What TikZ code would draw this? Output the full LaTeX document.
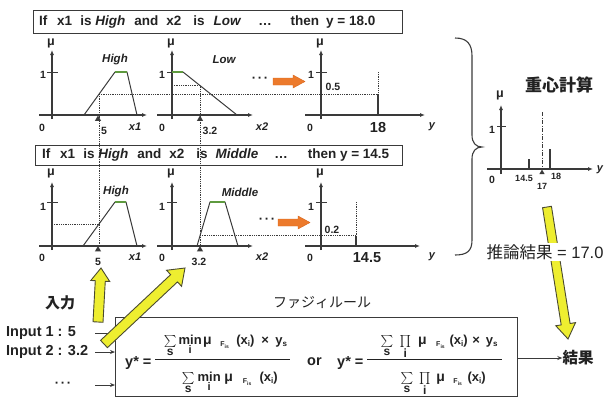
\documentclass[tikz,border=0pt]{standalone}
\usepackage{amsmath}
\usepackage{fontspec}
\setmainfont{Liberation Sans}
\newfontfamily\cjk{Noto Sans CJK JP}
\usetikzlibrary{arrows.meta,calc,shapes.geometric}
\definecolor{ln}{HTML}{3A3A3A}
\definecolor{tx}{HTML}{222222}
\definecolor{org}{HTML}{EC7A2C}
\definecolor{orgd}{HTML}{D8641A}
\definecolor{yel}{HTML}{EEEE30}
\definecolor{yeld}{HTML}{4A4A30}
\definecolor{grn}{HTML}{5E9A3E}
% block arrow: style, from, to, shaft half width, head half width, head length
\newcommand\blockarr[6]{%
  \path let \p1=($(#3)-(#2)$) in \pgfextra{\pgfmathparse{veclen(\x1,\y1)}\xdef\barlen{\pgfmathresult}\pgfmathparse{atan2(\y1,\x1)}\xdef\barang{\pgfmathresult}};
  \begin{scope}[shift={(#2)},rotate=\barang]
    \draw[#1] (0pt,-#4pt) -- (\barlen pt-#6pt,-#4pt) -- (\barlen pt-#6pt,-#5pt) -- (\barlen pt,0pt)
      -- (\barlen pt-#6pt,#5pt) -- (\barlen pt-#6pt,#4pt) -- (0pt,#4pt) -- cycle;
  \end{scope}}
% formula pieces
\newcommand\bigop[2]{{\fontsize{11.5}{11.5}\selectfont$\mathop{#1}\limits_{\mbox{\fontsize{12}{12}\selectfont\bfseries #2}}$}}
\newcommand\minop{$\mathop{\mbox{min}}\limits_{\mbox{\fontsize{11}{11}\selectfont\raisebox{-1pt}{i}}}$}
\newcommand\muu{{\fontsize{14}{14}\selectfont μ}}
\newcommand\Fis{\raisebox{-2.5pt}{\fontsize{7}{7}\selectfont F\raisebox{-1.5pt}{\fontsize{5}{5}\selectfont is}}}
\newcommand\xsub{(x\raisebox{-2.5pt}{\fontsize{8}{8}\selectfont i})}
\newcommand\ysub{y\raisebox{-2.5pt}{\fontsize{8}{8}\selectfont s}}
\newcommand\pc[2]{\makebox[#1pt]{#2}}
\begin{document}
\begin{tikzpicture}[x=1pt,y=-1pt,
  ax/.style={draw=ln, line width=1.1pt, -{Latex[length=5pt,width=4pt]}},
  mfn/.style={draw=ln, line width=1pt, line join=round},
  top/.style={draw=grn, line width=1.6pt},
  dots/.style={draw=ln, line width=0.9pt, dash pattern=on 0.9pt off 0.9pt},
  tick/.style={draw=ln, line width=1pt},
  sing/.style={draw=ln, line width=1.1pt},
  lab/.style={font=\fontsize{10.5}{12}\selectfont\bfseries, inner sep=0pt, text=tx},
  smal/.style={font=\fontsize{9}{10}\selectfont\bfseries, inner sep=0pt, text=tx},
  mu/.style={font=\fontsize{12.5}{12}\selectfont\bfseries, inner sep=0pt, text=tx},
  mfname/.style={font=\fontsize{11.5}{12}\selectfont\bfseries\itshape, inner sep=0pt, text=tx},
  axname/.style={font=\fontsize{11}{12}\selectfont\bfseries\itshape, inner sep=0pt, text=tx},
  bignum/.style={font=\fontsize{14.5}{15}\selectfont\bfseries, inner sep=0pt, text=tx},
  rulebox/.style={draw=ln, line width=1pt, minimum width=369pt, inner sep=0pt},
  ruletext/.style={font=\fontsize{13.5}{15}\selectfont\bfseries, inner sep=0pt, text=tx, anchor=west},
  tri/.style={regular polygon, regular polygon sides=3, fill=ln, inner sep=0pt, minimum size=7pt},
  orgarrow/.style={fill=org, draw=orgd, line width=0.4pt},
  yelarrow/.style={fill=yel, draw=yeld, line width=0.9pt, line join=miter},
  conn/.style={draw=ln, line width=0.9pt, -{Stealth[length=5pt,width=4pt]}},
  jp/.style={inner sep=0pt, text=tx},
  inp/.style={font=\fontsize{14.5}{15}\selectfont\bfseries, inner sep=0pt, text=tx, anchor=west},
  fpart/.style={font=\fontsize{13}{13}\selectfont\bfseries, inner sep=0pt, text=tx, anchor=base west},
  fhead/.style={font=\fontsize{14.5}{15}\selectfont\bfseries, inner sep=0pt, text=tx, anchor=base west},
  fbar/.style={draw=tx, line width=1pt}
]
\useasboundingbox (0,0) rectangle (607,397);

% ---------------- rule boxes ----------------
\node[rulebox, minimum height=23pt, anchor=north west] (r1) at (33,10) {};
\node[ruletext] (r1t) at (39,22) {If\hspace{9.8pt}x1\hspace{8pt}is \textit{High}\hspace{9pt}and\hspace{8pt}x2\hspace{12pt}is\hspace{9pt}\textit{Low}\hspace{17pt}\ldots\hspace{19pt}then\hspace{7pt}y = 18.0};
\node[rulebox, minimum height=20pt, minimum width=367pt, anchor=north west] (r2) at (35,145) {};
\node[ruletext] (r2t) at (42,155.5) {If\hspace{9.8pt}x1\hspace{8pt}is \textit{High}\hspace{9pt}and\hspace{8pt}x2\hspace{12pt}is\hspace{8pt}\textit{Middle}\hspace{16pt}\ldots\hspace{20pt}then y = 14.5};

% ---------------- row 1 ----------------
\draw[ax] (39,115) -- (147,115);
\draw[ax] (52,119) -- (52,50);
\draw[tick] (47,72) -- (58,72);
\draw[mfn] (84,115) -- (115,72) -- (127,72) -- (137,115);
\draw[top] (115,72) -- (127,72);
\node[mu] (muA1) at (51,43) {μ};
\node[lab] (oneA1) at (43,75) {1};
\node[lab] (zA1) at (42,128) {0};
\node[mfname] (hA1) at (115,60) {High};
\node[axname] (xA1) at (135,127) {x1};
\node[tri] (mA1) at (98,119) {};
\node[lab] (vA1) at (104,131) {5};
\draw[ax] (157,115) -- (253,115);
\draw[ax] (172,119) -- (172,50);
\draw[tick] (167,72) -- (177,72);
\draw[mfn] (172,72) -- (183,72) -- (237,115);
\draw[top] (172,72) -- (183,72);
\node[mu] (muB1) at (171,43) {μ};
\node[lab] (oneB1) at (162,75) {1};
\node[lab] (zB1) at (162,128) {0};
\node[mfname] (hB1) at (224,60) {Low};
\node[axname] (xB1) at (262,127) {x2};
\node[tri] (mB1) at (200,119) {};
\node[lab] (vB1) at (210,131) {3.2};
\draw[dots] (99,94) -- (378,94);
\draw[dots] (172,85.5) -- (200,85.5);
\draw[dots] (99,94) -- (99,244);
\draw[dots] (200,85.5) -- (200,244);
\node[font=\fontsize{13}{13}\selectfont\bfseries, inner sep=0pt, text=tx] (d1) at (260,80) {·\hspace{1.6pt}·\hspace{1.6pt}·};
\coordinate (o1s) at (273,81.5);
\coordinate (o1e) at (305,81.5);
\blockarr{orgarrow}{o1s}{o1e}{3.5}{6.5}{12}
\draw[ax] (305,115) -- (425,115);
\draw[ax] (321,119) -- (321,50);
\draw[tick] (316,72) -- (327,72);
\draw[dots] (378,72) -- (378,94);
\draw[sing] (378,94) -- (378,115);
\node[mu] (muC1) at (320,43) {μ};
\node[lab] (oneC1) at (311,75) {1};
\node[lab] (zC1) at (310,128) {0};
\node[lab] (hC1) at (333,87) {0.5};
\node[bignum] (vC1) at (378,128) {18};
\node[axname] (yC1) at (432,127) {y};

% ---------------- row 2 ----------------
\draw[ax] (39,246) -- (147,246);
\draw[ax] (52,250) -- (52,182);
\draw[tick] (47,202) -- (58,202);
\draw[mfn] (83,246) -- (115,202) -- (126,202) -- (137,246);
\draw[top] (115,202) -- (126,202);
\draw[dots] (52,224) -- (99,224);
\node[mu] (muA2) at (51,173) {μ};
\node[lab] (oneA2) at (43,207) {1};
\node[lab] (zA2) at (42,258) {0};
\node[mfname] (hA2) at (116,192) {High};
\node[axname] (xA2) at (135,257) {x1};
\node[tri] (mA2) at (98,249.5) {};
\node[lab] (vA2) at (98,262) {5};
\draw[ax] (157,246) -- (253,246);
\draw[ax] (172,250) -- (172,182);
\draw[tick] (167,202) -- (177,202);
\draw[mfn] (197,246) -- (210,202) -- (225,202) -- (238,246);
\draw[top] (210,202) -- (225,202);
\draw[dots] (200,235.5) -- (356,235.5);
\node[mu] (muB2) at (171,173) {μ};
\node[lab] (oneB2) at (162,207) {1};
\node[lab] (zB2) at (162,258) {0};
\node[mfname] (hB2) at (240,192) {Middle};
\node[axname] (xB2) at (262,257) {x2};
\node[tri] (mB2) at (200,249.5) {};
\node[lab] (vB2) at (199,262) {3.2};
\node[font=\fontsize{13}{13}\selectfont\bfseries, inner sep=0pt, text=tx] (d2) at (267,221) {·\hspace{1.6pt}·\hspace{1.6pt}·};
\coordinate (o2s) at (278,222.5);
\coordinate (o2e) at (310,222.5);
\blockarr{orgarrow}{o2s}{o2e}{3.5}{6.5}{12}
\draw[ax] (305,246) -- (420,246);
\draw[ax] (321,250) -- (321,182);
\draw[tick] (316,202) -- (327,202);
\draw[dots] (356,202) -- (356,235.5);
\draw[sing] (356,235.5) -- (356,246);
\node[mu] (muC2) at (320,173) {μ};
\node[lab] (oneC2) at (311,207) {1};
\node[lab] (zC2) at (310,258) {0};
\node[lab] (hC2) at (332,230) {0.2};
\node[bignum] (vC2) at (367,258) {14.5};
\node[axname] (yC2) at (432,257) {y};

% ---------------- brace ----------------
\draw[ln, line width=1.1pt] (455,38) .. controls (467,38) and (472,44) .. (472,56) -- (472,135)
  .. controls (472,143) and (476,147) .. (482,147) .. controls (476,147) and (472,151) .. (472,159)
  -- (472,240) .. controls (472,251) and (467,255) .. (455,255);

% ---------------- centroid plot ----------------
\node[jp, font=\cjk\bfseries\fontsize{17}{17}\selectfont] (cg) at (559,85) {重心計算};
\draw[ax] (487,169) -- (593,169);
\draw[ax] (501,174) -- (501,105);
\draw[tick] (497,126) -- (506,126);
\draw[sing] (529,169) -- (529,159);
\draw[sing] (550,169) -- (550,149);
\draw[ln, line width=1pt, dash pattern=on 4pt off 1.5pt on 1pt off 1.5pt] (542,112) -- (542,169);
\node[tri, minimum size=6pt] (mR) at (542,172.5) {};
\node[mu] (muR) at (500,95) {μ};
\node[lab] (oneR) at (492,130) {1};
\node[lab] (zR) at (492,180) {0};
\node[smal] (l145) at (524,178) {14.5};
\node[smal] (l17) at (542,186) {17};
\node[smal] (l18) at (556,176) {18};
\node[axname] (yR) at (600,170) {y};

% ---------------- formula box ----------------
\node[draw=ln, line width=1pt, minimum width=402pt, minimum height=79pt, inner sep=0pt, anchor=north west] (fbox) at (115,317) {};
\node[jp, font=\cjk\fontsize{14}{14}\selectfont] (fz) at (322,302) {ファジィルール};
% formula 1
\node[fhead] (f1h) at (125,366) {y* =};
\draw[fbar] (155,359) -- (290,359);
\node[fpart] (f1n) at (160,344) {\pc{20}{\bigop{\sum}{s}}\pc{20}{\minop}\pc{14.5}{\muu}\pc{19.75}{\Fis}\pc{21.75}{\xsub}\pc{18}{×}\pc{14}{\ysub}};
\node[fpart] (f1d) at (178,381) {\pc{20}{\bigop{\sum}{s}}\pc{22}{\minop}\pc{17}{\muu}\pc{19.75}{\Fis}\pc{23.25}{\xsub}};
% or
\node[fhead] (orw) at (307,365) {or};
% formula 2
\node[fhead] (f2h) at (337,366) {y* =};
\draw[fbar] (367,359) -- (502,359);
\node[fpart] (f2n) at (377,344) {\pc{19.5}{\bigop{\sum}{s}}\pc{17}{\bigop{\prod}{i}}\pc{17.5}{\muu}\pc{18.5}{\Fis}\pc{18}{\xsub}\pc{16.75}{×}\pc{14.75}{\ysub}};
\node[fpart] (f2d) at (397,381) {\pc{19.5}{\bigop{\sum}{s}}\pc{16}{\bigop{\prod}{i}}\pc{15.75}{\muu}\pc{18.5}{\Fis}\pc{19.25}{\xsub}};

% inputs
\node[jp, font=\cjk\bfseries\fontsize{15}{15}\selectfont] (nyu) at (60,303) {入力};
\node[inp] (in1) at (6,333) {Input 1 : 5};
\node[inp] (in2) at (6,352) {Input 2 : 3.2};
\node[font=\fontsize{13}{13}\selectfont\bfseries, inner sep=0pt, text=tx] (in3) at (63,385) {·\hspace{1.6pt}·\hspace{1.6pt}·};
\coordinate (c1) at (95,333);
\coordinate (c2) at (95,352);
\coordinate (c3) at (95,385);
\draw[conn] (c1) -- (fbox.west |- c1);
\draw[conn] (c2) -- (fbox.west |- c2);
\draw[conn] (c3) -- (fbox.west |- c3);

% output
\node[jp, font=\cjk\bfseries\fontsize{15.5}{15.5}\selectfont] (res) at (578,358) {結果};
\draw[conn] (fbox.east |- res) -- (res.west);

% yellow arrows
\coordinate (ya1) at (98,322);
\coordinate (ya2) at (101,268);
\coordinate (yb1) at (104,344);
\coordinate (yb2) at (185,268);
\coordinate (yc1) at (547,207);
\coordinate (yc2) at (568,339);
\blockarr{yelarrow}{ya1}{ya2}{5}{9.5}{13}
\blockarr{yelarrow}{yb1}{yb2}{5}{11}{15}
\blockarr{yelarrow}{yc1}{yc2}{4.5}{10}{15}
\node[fill=white, inner sep=1.5pt, text=tx, font=\fontsize{16.5}{18}\selectfont] (inf) at (545,252) {{\cjk 推論結果} = 17.0};
\end{tikzpicture}
\end{document}
